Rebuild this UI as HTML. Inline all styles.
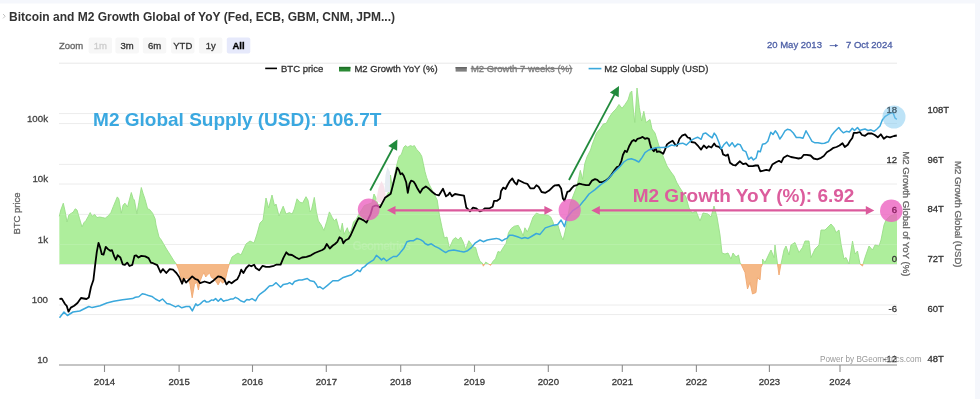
<!DOCTYPE html><html><head><meta charset="utf-8"><style>html,body{margin:0;padding:0;background:#fff;width:980px;height:399px;overflow:hidden}svg{display:block;filter:blur(0.35px)}text{font-family:"Liberation Sans", sans-serif}</style></head><body><svg width="980" height="399" viewBox="0 0 980 399"><defs><clipPath id="above"><rect x="0" y="0" width="980" height="264"/></clipPath><clipPath id="below"><rect x="0" y="264" width="980" height="140"/></clipPath><clipPath id="plot"><rect x="59" y="60" width="839" height="305"/></clipPath></defs><rect x="0" y="0" width="980" height="399" fill="#fff"/><rect x="0" y="0" width="980" height="3.5" fill="#f5f7fc"/><rect x="975" y="0" width="5" height="399" fill="#f5f7fc"/><path d="M3,14 L5.2,16.2 L3,18.4" fill="none" stroke="#bbb" stroke-width="0.9"/><text x="9" y="20.5" font-size="12" font-weight="bold" fill="#333">Bitcoin and M2 Growth Global of YoY (Fed, ECB, GBM, CNM, JPM...)</text><text x="59" y="48.8" font-size="9.5" fill="#666" stroke="#666" stroke-width="0.3">Zoom</text><rect x="88.6" y="37.5" width="23.5" height="16" rx="2" fill="#f7f7f7"/><text x="100.35" y="48.8" font-size="9.5" text-anchor="middle" fill="#ccc" stroke="#ccc" stroke-width="0.3">1m</text><rect x="115.4" y="37.5" width="23.5" height="16" rx="2" fill="#f7f7f7"/><text x="127.15" y="48.8" font-size="9.5" text-anchor="middle" fill="#333" stroke="#333" stroke-width="0.3">3m</text><rect x="142.8" y="37.5" width="23.5" height="16" rx="2" fill="#f7f7f7"/><text x="154.55" y="48.8" font-size="9.5" text-anchor="middle" fill="#333" stroke="#333" stroke-width="0.3">6m</text><rect x="171" y="37.5" width="23.5" height="16" rx="2" fill="#f7f7f7"/><text x="182.75" y="48.8" font-size="9.5" text-anchor="middle" fill="#333" stroke="#333" stroke-width="0.3">YTD</text><rect x="198.9" y="37.5" width="23.5" height="16" rx="2" fill="#f7f7f7"/><text x="210.65" y="48.8" font-size="9.5" text-anchor="middle" fill="#333" stroke="#333" stroke-width="0.3">1y</text><rect x="226.8" y="37.5" width="23.5" height="16" rx="2" fill="#e6e9fb"/><text x="238.55" y="48.8" font-size="9.5" text-anchor="middle" fill="#000" stroke="#000" stroke-width="0.3" font-weight="bold">All</text><text x="767" y="48.3" font-size="9.5" fill="#4d5fa6" stroke="#4d5fa6" stroke-width="0.3">20 May 2013</text><line x1="829.7" y1="45.6" x2="836" y2="45.6" stroke="#4d5fa6" stroke-width="0.9"/><path d="M838.3,45.6 L835,43.9 L835,47.3 Z" fill="#4d5fa6"/><text x="846" y="48.3" font-size="9.5" fill="#4d5fa6" stroke="#4d5fa6" stroke-width="0.3">7 Oct 2024</text><line x1="59" y1="63.2" x2="897" y2="63.2" stroke="#e8e8e8" stroke-width="1"/><line x1="59" y1="123.6" x2="897" y2="123.6" stroke="#ececec" stroke-width="1"/><line x1="59" y1="184" x2="897" y2="184" stroke="#ececec" stroke-width="1"/><line x1="59" y1="244.5" x2="897" y2="244.5" stroke="#ececec" stroke-width="1"/><line x1="59" y1="305" x2="897" y2="305" stroke="#ececec" stroke-width="1"/><line x1="59" y1="113.6" x2="897" y2="113.6" stroke="#ececec" stroke-width="1"/><line x1="59" y1="164.4" x2="897" y2="164.4" stroke="#ececec" stroke-width="1"/><line x1="59" y1="214.4" x2="897" y2="214.4" stroke="#ececec" stroke-width="1"/><line x1="59" y1="264.5" x2="897" y2="264.5" stroke="#ececec" stroke-width="1"/><line x1="59" y1="314.6" x2="897" y2="314.6" stroke="#ececec" stroke-width="1"/><line x1="265.2" y1="68.4" x2="277" y2="68.4" stroke="#000" stroke-width="1.6"/><text x="281" y="71.5" font-size="9.5" fill="#333" stroke="#333" stroke-width="0.3">BTC price</text><rect x="339" y="66.9" width="11.4" height="4.6" fill="#2a8a34"/><rect x="339" y="66.9" width="11.4" height="1.6" fill="#1d6e26"/><text x="354.4" y="71.5" font-size="9.5" fill="#333" stroke="#333" stroke-width="0.3">M2 Growth YoY (%)</text><rect x="455.6" y="67" width="11.2" height="4.6" fill="#808080"/><rect x="455.6" y="67" width="11.2" height="1.5" fill="#666"/><text x="470.9" y="71.5" font-size="9.5" fill="#7c7c7c" stroke="#7c7c7c" stroke-width="0.3" text-decoration="line-through">M2 Growth 7 weeks (%)</text><line x1="588.6" y1="68.6" x2="601.4" y2="68.6" stroke="#3aa8dc" stroke-width="1.6"/><text x="604.3" y="71.5" font-size="9.5" fill="#333" stroke="#333" stroke-width="0.3">M2 Global Supply (USD)</text><polygon points="59.4,264.0 59.3,216.3 60.8,210.0 63.3,203.2 65.1,211.3 67.0,222.0 68.9,215.0 71.4,213.2 73.3,212.0 75.2,208.8 77.0,210.0 79.6,218.8 82.0,227.0 84.0,222.6 85.8,220.7 88.3,216.3 90.2,212.6 92.1,216.3 94.6,214.4 97.0,217.6 99.6,217.0 102.7,217.6 105.2,218.2 108.4,215.7 110.9,212.6 113.4,206.3 117.3,196.9 118.8,198.8 121.3,213.2 123.1,205.0 125.0,203.2 127.5,207.0 131.3,192.5 133.2,198.8 134.4,200.0 136.9,213.8 138.8,202.6 141.3,187.5 143.2,193.8 145.1,199.4 147.6,208.8 149.5,209.4 152.6,213.2 155.1,218.8 156.0,225.0 159.0,237.0 161.3,240.0 163.5,243.8 166.5,249.0 170.3,255.0 174.0,261.0 176.3,264.0 178.7,269.7 180.9,277.5 183.2,282.0 185.4,278.7 187.7,278.1 190.0,284.3 192.2,297.8 194.5,284.3 196.7,282.0 198.4,290.0 200.1,281.0 202.4,275.3 204.0,272.5 205.7,277.0 208.0,274.2 209.7,273.0 211.4,277.5 213.6,278.7 216.4,282.0 218.1,284.9 220.4,280.4 222.6,283.2 225.0,281.0 227.6,269.7 229.3,264.0 232.0,257.0 235.0,255.0 238.0,253.0 241.0,255.0 246.0,244.0 250.0,241.0 254.0,243.0 257.0,234.0 260.0,223.0 263.0,220.0 266.0,198.0 268.6,208.0 272.0,195.0 274.6,206.0 276.0,204.0 279.0,216.0 283.2,206.2 286.0,214.0 289.4,212.6 292.2,214.0 294.3,209.0 297.0,198.8 299.8,202.2 302.6,203.0 306.0,196.7 308.0,200.2 310.1,211.9 311.5,209.8 314.3,197.4 316.3,211.2 318.4,220.9 321.2,225.0 323.9,230.5 326.7,221.6 329.4,211.9 332.2,217.4 334.3,220.9 336.3,218.8 339.1,229.1 340.5,231.9 342.3,223.2 344.0,234.4 347.3,227.7 349.0,233.3 351.3,230.0 353.5,222.0 356.3,219.2 359.0,214.0 364.3,205.6 368.7,204.0 372.0,203.0 374.0,194.0 376.0,198.0 378.0,205.0 382.0,204.0 385.0,199.0 388.5,192.0 390.5,175.0 392.0,186.0 394.0,178.0 396.0,168.0 398.2,159.5 399.2,156.2 401.3,154.6 403.8,147.2 405.4,145.6 407.8,147.2 410.3,145.6 412.7,146.4 414.4,145.6 416.8,149.7 419.3,152.1 421.7,156.2 423.3,163.5 425.0,171.7 426.6,177.4 429.0,184.0 432.3,190.5 435.6,197.0 437.2,200.0 439.4,215.0 442.0,227.5 444.4,238.0 447.0,237.0 449.4,248.0 453.2,239.4 455.7,237.6 458.2,240.0 460.7,237.0 463.2,242.0 465.7,249.5 468.9,240.7 470.7,243.2 473.2,247.0 475.7,247.6 477.6,255.0 480.0,261.4 482.4,263.0 483.3,266.2 485.7,262.1 488.2,263.7 490.6,265.3 493.0,261.3 495.5,258.8 498.0,251.5 500.4,252.3 502.8,248.2 506.1,243.3 508.5,232.7 511.0,228.7 514.3,226.2 518.3,225.4 520.8,230.3 523.2,236.0 524.9,227.8 527.3,231.9 529.8,226.2 533.0,217.2 536.3,213.2 540.0,214.6 544.6,214.6 548.4,215.4 550.6,216.9 553.0,222.0 554.3,226.7 557.7,224.5 561.1,235.8 563.0,240.0 565.0,232.0 567.0,222.0 570.0,204.0 573.5,195.0 577.0,186.0 580.3,170.3 582.6,179.3 584.8,163.5 587.0,156.8 590.5,150.0 592.0,145.0 596.5,133.0 600.3,128.5 603.3,124.0 606.3,123.3 609.3,117.3 612.3,112.8 616.0,109.0 619.0,104.5 622.0,108.3 625.0,104.5 628.0,100.0 630.3,92.5 631.8,91.0 633.3,109.0 634.8,122.5 637.0,88.0 639.3,107.5 641.6,121.0 643.8,111.3 646.0,122.5 650.0,119.5 652.0,129.0 655.0,133.0 659.0,146.0 663.0,156.0 667.0,166.0 671.0,172.0 674.0,176.0 677.0,183.0 680.0,188.0 686.0,197.0 689.0,208.0 692.0,213.0 696.0,211.0 700.0,221.0 703.0,213.0 708.0,214.0 711.0,217.0 714.0,206.0 717.0,217.0 720.0,235.0 722.0,253.0 725.0,254.0 728.0,253.0 731.0,259.0 733.0,253.0 736.0,257.0 738.5,255.0 740.0,262.5 741.0,264.0 745.0,272.5 747.5,289.0 750.0,282.5 752.5,294.0 756.0,292.5 757.5,277.5 760.0,280.0 761.0,267.5 762.5,264.0 762.5,259.0 765.0,262.5 769.0,254.0 771.0,250.0 774.0,257.5 775.0,245.0 777.5,264.0 779.0,275.0 781.0,264.0 784.0,250.0 786.0,246.0 789.0,255.0 791.0,245.0 795.0,242.5 799.0,252.5 802.5,247.5 805.0,241.0 809.0,241.0 811.0,257.5 815.0,249.0 819.0,245.0 821.0,230.0 825.0,230.0 829.0,226.0 831.0,224.0 834.0,227.5 836.0,232.5 839.0,230.0 841.0,244.0 844.0,259.0 846.0,257.5 849.0,264.0 852.5,241.0 855.0,254.0 857.5,251.0 860.0,264.0 862.5,266.0 865.0,257.5 869.0,246.0 872.5,250.0 875.0,245.0 879.0,246.0 881.0,240.0 884.0,225.0 886.0,220.0 890.0,216.0 896.0,214.0 897.0,214.0 897.0,264.0" fill="#aeee9c" clip-path="url(#above)"/><polygon points="59.4,264.0 59.3,216.3 60.8,210.0 63.3,203.2 65.1,211.3 67.0,222.0 68.9,215.0 71.4,213.2 73.3,212.0 75.2,208.8 77.0,210.0 79.6,218.8 82.0,227.0 84.0,222.6 85.8,220.7 88.3,216.3 90.2,212.6 92.1,216.3 94.6,214.4 97.0,217.6 99.6,217.0 102.7,217.6 105.2,218.2 108.4,215.7 110.9,212.6 113.4,206.3 117.3,196.9 118.8,198.8 121.3,213.2 123.1,205.0 125.0,203.2 127.5,207.0 131.3,192.5 133.2,198.8 134.4,200.0 136.9,213.8 138.8,202.6 141.3,187.5 143.2,193.8 145.1,199.4 147.6,208.8 149.5,209.4 152.6,213.2 155.1,218.8 156.0,225.0 159.0,237.0 161.3,240.0 163.5,243.8 166.5,249.0 170.3,255.0 174.0,261.0 176.3,264.0 178.7,269.7 180.9,277.5 183.2,282.0 185.4,278.7 187.7,278.1 190.0,284.3 192.2,297.8 194.5,284.3 196.7,282.0 198.4,290.0 200.1,281.0 202.4,275.3 204.0,272.5 205.7,277.0 208.0,274.2 209.7,273.0 211.4,277.5 213.6,278.7 216.4,282.0 218.1,284.9 220.4,280.4 222.6,283.2 225.0,281.0 227.6,269.7 229.3,264.0 232.0,257.0 235.0,255.0 238.0,253.0 241.0,255.0 246.0,244.0 250.0,241.0 254.0,243.0 257.0,234.0 260.0,223.0 263.0,220.0 266.0,198.0 268.6,208.0 272.0,195.0 274.6,206.0 276.0,204.0 279.0,216.0 283.2,206.2 286.0,214.0 289.4,212.6 292.2,214.0 294.3,209.0 297.0,198.8 299.8,202.2 302.6,203.0 306.0,196.7 308.0,200.2 310.1,211.9 311.5,209.8 314.3,197.4 316.3,211.2 318.4,220.9 321.2,225.0 323.9,230.5 326.7,221.6 329.4,211.9 332.2,217.4 334.3,220.9 336.3,218.8 339.1,229.1 340.5,231.9 342.3,223.2 344.0,234.4 347.3,227.7 349.0,233.3 351.3,230.0 353.5,222.0 356.3,219.2 359.0,214.0 364.3,205.6 368.7,204.0 372.0,203.0 374.0,194.0 376.0,198.0 378.0,205.0 382.0,204.0 385.0,199.0 388.5,192.0 390.5,175.0 392.0,186.0 394.0,178.0 396.0,168.0 398.2,159.5 399.2,156.2 401.3,154.6 403.8,147.2 405.4,145.6 407.8,147.2 410.3,145.6 412.7,146.4 414.4,145.6 416.8,149.7 419.3,152.1 421.7,156.2 423.3,163.5 425.0,171.7 426.6,177.4 429.0,184.0 432.3,190.5 435.6,197.0 437.2,200.0 439.4,215.0 442.0,227.5 444.4,238.0 447.0,237.0 449.4,248.0 453.2,239.4 455.7,237.6 458.2,240.0 460.7,237.0 463.2,242.0 465.7,249.5 468.9,240.7 470.7,243.2 473.2,247.0 475.7,247.6 477.6,255.0 480.0,261.4 482.4,263.0 483.3,266.2 485.7,262.1 488.2,263.7 490.6,265.3 493.0,261.3 495.5,258.8 498.0,251.5 500.4,252.3 502.8,248.2 506.1,243.3 508.5,232.7 511.0,228.7 514.3,226.2 518.3,225.4 520.8,230.3 523.2,236.0 524.9,227.8 527.3,231.9 529.8,226.2 533.0,217.2 536.3,213.2 540.0,214.6 544.6,214.6 548.4,215.4 550.6,216.9 553.0,222.0 554.3,226.7 557.7,224.5 561.1,235.8 563.0,240.0 565.0,232.0 567.0,222.0 570.0,204.0 573.5,195.0 577.0,186.0 580.3,170.3 582.6,179.3 584.8,163.5 587.0,156.8 590.5,150.0 592.0,145.0 596.5,133.0 600.3,128.5 603.3,124.0 606.3,123.3 609.3,117.3 612.3,112.8 616.0,109.0 619.0,104.5 622.0,108.3 625.0,104.5 628.0,100.0 630.3,92.5 631.8,91.0 633.3,109.0 634.8,122.5 637.0,88.0 639.3,107.5 641.6,121.0 643.8,111.3 646.0,122.5 650.0,119.5 652.0,129.0 655.0,133.0 659.0,146.0 663.0,156.0 667.0,166.0 671.0,172.0 674.0,176.0 677.0,183.0 680.0,188.0 686.0,197.0 689.0,208.0 692.0,213.0 696.0,211.0 700.0,221.0 703.0,213.0 708.0,214.0 711.0,217.0 714.0,206.0 717.0,217.0 720.0,235.0 722.0,253.0 725.0,254.0 728.0,253.0 731.0,259.0 733.0,253.0 736.0,257.0 738.5,255.0 740.0,262.5 741.0,264.0 745.0,272.5 747.5,289.0 750.0,282.5 752.5,294.0 756.0,292.5 757.5,277.5 760.0,280.0 761.0,267.5 762.5,264.0 762.5,259.0 765.0,262.5 769.0,254.0 771.0,250.0 774.0,257.5 775.0,245.0 777.5,264.0 779.0,275.0 781.0,264.0 784.0,250.0 786.0,246.0 789.0,255.0 791.0,245.0 795.0,242.5 799.0,252.5 802.5,247.5 805.0,241.0 809.0,241.0 811.0,257.5 815.0,249.0 819.0,245.0 821.0,230.0 825.0,230.0 829.0,226.0 831.0,224.0 834.0,227.5 836.0,232.5 839.0,230.0 841.0,244.0 844.0,259.0 846.0,257.5 849.0,264.0 852.5,241.0 855.0,254.0 857.5,251.0 860.0,264.0 862.5,266.0 865.0,257.5 869.0,246.0 872.5,250.0 875.0,245.0 879.0,246.0 881.0,240.0 884.0,225.0 886.0,220.0 890.0,216.0 896.0,214.0 897.0,214.0 897.0,264.0" fill="#f5b886" clip-path="url(#below)"/><path d="M59.3,216.3 L60.8,210.0 L63.3,203.2 L65.1,211.3 L67.0,222.0 L68.9,215.0 L71.4,213.2 L73.3,212.0 L75.2,208.8 L77.0,210.0 L79.6,218.8 L82.0,227.0 L84.0,222.6 L85.8,220.7 L88.3,216.3 L90.2,212.6 L92.1,216.3 L94.6,214.4 L97.0,217.6 L99.6,217.0 L102.7,217.6 L105.2,218.2 L108.4,215.7 L110.9,212.6 L113.4,206.3 L117.3,196.9 L118.8,198.8 L121.3,213.2 L123.1,205.0 L125.0,203.2 L127.5,207.0 L131.3,192.5 L133.2,198.8 L134.4,200.0 L136.9,213.8 L138.8,202.6 L141.3,187.5 L143.2,193.8 L145.1,199.4 L147.6,208.8 L149.5,209.4 L152.6,213.2 L155.1,218.8 L156.0,225.0 L159.0,237.0 L161.3,240.0 L163.5,243.8 L166.5,249.0 L170.3,255.0 L174.0,261.0 L176.3,264.0 L178.7,269.7 L180.9,277.5 L183.2,282.0 L185.4,278.7 L187.7,278.1 L190.0,284.3 L192.2,297.8 L194.5,284.3 L196.7,282.0 L198.4,290.0 L200.1,281.0 L202.4,275.3 L204.0,272.5 L205.7,277.0 L208.0,274.2 L209.7,273.0 L211.4,277.5 L213.6,278.7 L216.4,282.0 L218.1,284.9 L220.4,280.4 L222.6,283.2 L225.0,281.0 L227.6,269.7 L229.3,264.0 L232.0,257.0 L235.0,255.0 L238.0,253.0 L241.0,255.0 L246.0,244.0 L250.0,241.0 L254.0,243.0 L257.0,234.0 L260.0,223.0 L263.0,220.0 L266.0,198.0 L268.6,208.0 L272.0,195.0 L274.6,206.0 L276.0,204.0 L279.0,216.0 L283.2,206.2 L286.0,214.0 L289.4,212.6 L292.2,214.0 L294.3,209.0 L297.0,198.8 L299.8,202.2 L302.6,203.0 L306.0,196.7 L308.0,200.2 L310.1,211.9 L311.5,209.8 L314.3,197.4 L316.3,211.2 L318.4,220.9 L321.2,225.0 L323.9,230.5 L326.7,221.6 L329.4,211.9 L332.2,217.4 L334.3,220.9 L336.3,218.8 L339.1,229.1 L340.5,231.9 L342.3,223.2 L344.0,234.4 L347.3,227.7 L349.0,233.3 L351.3,230.0 L353.5,222.0 L356.3,219.2 L359.0,214.0 L364.3,205.6 L368.7,204.0 L372.0,203.0 L374.0,194.0 L376.0,198.0 L378.0,205.0 L382.0,204.0 L385.0,199.0 L388.5,192.0 L390.5,175.0 L392.0,186.0 L394.0,178.0 L396.0,168.0 L398.2,159.5 L399.2,156.2 L401.3,154.6 L403.8,147.2 L405.4,145.6 L407.8,147.2 L410.3,145.6 L412.7,146.4 L414.4,145.6 L416.8,149.7 L419.3,152.1 L421.7,156.2 L423.3,163.5 L425.0,171.7 L426.6,177.4 L429.0,184.0 L432.3,190.5 L435.6,197.0 L437.2,200.0 L439.4,215.0 L442.0,227.5 L444.4,238.0 L447.0,237.0 L449.4,248.0 L453.2,239.4 L455.7,237.6 L458.2,240.0 L460.7,237.0 L463.2,242.0 L465.7,249.5 L468.9,240.7 L470.7,243.2 L473.2,247.0 L475.7,247.6 L477.6,255.0 L480.0,261.4 L482.4,263.0 L483.3,266.2 L485.7,262.1 L488.2,263.7 L490.6,265.3 L493.0,261.3 L495.5,258.8 L498.0,251.5 L500.4,252.3 L502.8,248.2 L506.1,243.3 L508.5,232.7 L511.0,228.7 L514.3,226.2 L518.3,225.4 L520.8,230.3 L523.2,236.0 L524.9,227.8 L527.3,231.9 L529.8,226.2 L533.0,217.2 L536.3,213.2 L540.0,214.6 L544.6,214.6 L548.4,215.4 L550.6,216.9 L553.0,222.0 L554.3,226.7 L557.7,224.5 L561.1,235.8 L563.0,240.0 L565.0,232.0 L567.0,222.0 L570.0,204.0 L573.5,195.0 L577.0,186.0 L580.3,170.3 L582.6,179.3 L584.8,163.5 L587.0,156.8 L590.5,150.0 L592.0,145.0 L596.5,133.0 L600.3,128.5 L603.3,124.0 L606.3,123.3 L609.3,117.3 L612.3,112.8 L616.0,109.0 L619.0,104.5 L622.0,108.3 L625.0,104.5 L628.0,100.0 L630.3,92.5 L631.8,91.0 L633.3,109.0 L634.8,122.5 L637.0,88.0 L639.3,107.5 L641.6,121.0 L643.8,111.3 L646.0,122.5 L650.0,119.5 L652.0,129.0 L655.0,133.0 L659.0,146.0 L663.0,156.0 L667.0,166.0 L671.0,172.0 L674.0,176.0 L677.0,183.0 L680.0,188.0 L686.0,197.0 L689.0,208.0 L692.0,213.0 L696.0,211.0 L700.0,221.0 L703.0,213.0 L708.0,214.0 L711.0,217.0 L714.0,206.0 L717.0,217.0 L720.0,235.0 L722.0,253.0 L725.0,254.0 L728.0,253.0 L731.0,259.0 L733.0,253.0 L736.0,257.0 L738.5,255.0 L740.0,262.5 L741.0,264.0 L745.0,272.5 L747.5,289.0 L750.0,282.5 L752.5,294.0 L756.0,292.5 L757.5,277.5 L760.0,280.0 L761.0,267.5 L762.5,264.0 L762.5,259.0 L765.0,262.5 L769.0,254.0 L771.0,250.0 L774.0,257.5 L775.0,245.0 L777.5,264.0 L779.0,275.0 L781.0,264.0 L784.0,250.0 L786.0,246.0 L789.0,255.0 L791.0,245.0 L795.0,242.5 L799.0,252.5 L802.5,247.5 L805.0,241.0 L809.0,241.0 L811.0,257.5 L815.0,249.0 L819.0,245.0 L821.0,230.0 L825.0,230.0 L829.0,226.0 L831.0,224.0 L834.0,227.5 L836.0,232.5 L839.0,230.0 L841.0,244.0 L844.0,259.0 L846.0,257.5 L849.0,264.0 L852.5,241.0 L855.0,254.0 L857.5,251.0 L860.0,264.0 L862.5,266.0 L865.0,257.5 L869.0,246.0 L872.5,250.0 L875.0,245.0 L879.0,246.0 L881.0,240.0 L884.0,225.0 L886.0,220.0 L890.0,216.0 L896.0,214.0 L897.0,214.0" fill="none" stroke="#9ade88" stroke-width="0.9" clip-path="url(#above)"/><path d="M59.3,216.3 L60.8,210.0 L63.3,203.2 L65.1,211.3 L67.0,222.0 L68.9,215.0 L71.4,213.2 L73.3,212.0 L75.2,208.8 L77.0,210.0 L79.6,218.8 L82.0,227.0 L84.0,222.6 L85.8,220.7 L88.3,216.3 L90.2,212.6 L92.1,216.3 L94.6,214.4 L97.0,217.6 L99.6,217.0 L102.7,217.6 L105.2,218.2 L108.4,215.7 L110.9,212.6 L113.4,206.3 L117.3,196.9 L118.8,198.8 L121.3,213.2 L123.1,205.0 L125.0,203.2 L127.5,207.0 L131.3,192.5 L133.2,198.8 L134.4,200.0 L136.9,213.8 L138.8,202.6 L141.3,187.5 L143.2,193.8 L145.1,199.4 L147.6,208.8 L149.5,209.4 L152.6,213.2 L155.1,218.8 L156.0,225.0 L159.0,237.0 L161.3,240.0 L163.5,243.8 L166.5,249.0 L170.3,255.0 L174.0,261.0 L176.3,264.0 L178.7,269.7 L180.9,277.5 L183.2,282.0 L185.4,278.7 L187.7,278.1 L190.0,284.3 L192.2,297.8 L194.5,284.3 L196.7,282.0 L198.4,290.0 L200.1,281.0 L202.4,275.3 L204.0,272.5 L205.7,277.0 L208.0,274.2 L209.7,273.0 L211.4,277.5 L213.6,278.7 L216.4,282.0 L218.1,284.9 L220.4,280.4 L222.6,283.2 L225.0,281.0 L227.6,269.7 L229.3,264.0 L232.0,257.0 L235.0,255.0 L238.0,253.0 L241.0,255.0 L246.0,244.0 L250.0,241.0 L254.0,243.0 L257.0,234.0 L260.0,223.0 L263.0,220.0 L266.0,198.0 L268.6,208.0 L272.0,195.0 L274.6,206.0 L276.0,204.0 L279.0,216.0 L283.2,206.2 L286.0,214.0 L289.4,212.6 L292.2,214.0 L294.3,209.0 L297.0,198.8 L299.8,202.2 L302.6,203.0 L306.0,196.7 L308.0,200.2 L310.1,211.9 L311.5,209.8 L314.3,197.4 L316.3,211.2 L318.4,220.9 L321.2,225.0 L323.9,230.5 L326.7,221.6 L329.4,211.9 L332.2,217.4 L334.3,220.9 L336.3,218.8 L339.1,229.1 L340.5,231.9 L342.3,223.2 L344.0,234.4 L347.3,227.7 L349.0,233.3 L351.3,230.0 L353.5,222.0 L356.3,219.2 L359.0,214.0 L364.3,205.6 L368.7,204.0 L372.0,203.0 L374.0,194.0 L376.0,198.0 L378.0,205.0 L382.0,204.0 L385.0,199.0 L388.5,192.0 L390.5,175.0 L392.0,186.0 L394.0,178.0 L396.0,168.0 L398.2,159.5 L399.2,156.2 L401.3,154.6 L403.8,147.2 L405.4,145.6 L407.8,147.2 L410.3,145.6 L412.7,146.4 L414.4,145.6 L416.8,149.7 L419.3,152.1 L421.7,156.2 L423.3,163.5 L425.0,171.7 L426.6,177.4 L429.0,184.0 L432.3,190.5 L435.6,197.0 L437.2,200.0 L439.4,215.0 L442.0,227.5 L444.4,238.0 L447.0,237.0 L449.4,248.0 L453.2,239.4 L455.7,237.6 L458.2,240.0 L460.7,237.0 L463.2,242.0 L465.7,249.5 L468.9,240.7 L470.7,243.2 L473.2,247.0 L475.7,247.6 L477.6,255.0 L480.0,261.4 L482.4,263.0 L483.3,266.2 L485.7,262.1 L488.2,263.7 L490.6,265.3 L493.0,261.3 L495.5,258.8 L498.0,251.5 L500.4,252.3 L502.8,248.2 L506.1,243.3 L508.5,232.7 L511.0,228.7 L514.3,226.2 L518.3,225.4 L520.8,230.3 L523.2,236.0 L524.9,227.8 L527.3,231.9 L529.8,226.2 L533.0,217.2 L536.3,213.2 L540.0,214.6 L544.6,214.6 L548.4,215.4 L550.6,216.9 L553.0,222.0 L554.3,226.7 L557.7,224.5 L561.1,235.8 L563.0,240.0 L565.0,232.0 L567.0,222.0 L570.0,204.0 L573.5,195.0 L577.0,186.0 L580.3,170.3 L582.6,179.3 L584.8,163.5 L587.0,156.8 L590.5,150.0 L592.0,145.0 L596.5,133.0 L600.3,128.5 L603.3,124.0 L606.3,123.3 L609.3,117.3 L612.3,112.8 L616.0,109.0 L619.0,104.5 L622.0,108.3 L625.0,104.5 L628.0,100.0 L630.3,92.5 L631.8,91.0 L633.3,109.0 L634.8,122.5 L637.0,88.0 L639.3,107.5 L641.6,121.0 L643.8,111.3 L646.0,122.5 L650.0,119.5 L652.0,129.0 L655.0,133.0 L659.0,146.0 L663.0,156.0 L667.0,166.0 L671.0,172.0 L674.0,176.0 L677.0,183.0 L680.0,188.0 L686.0,197.0 L689.0,208.0 L692.0,213.0 L696.0,211.0 L700.0,221.0 L703.0,213.0 L708.0,214.0 L711.0,217.0 L714.0,206.0 L717.0,217.0 L720.0,235.0 L722.0,253.0 L725.0,254.0 L728.0,253.0 L731.0,259.0 L733.0,253.0 L736.0,257.0 L738.5,255.0 L740.0,262.5 L741.0,264.0 L745.0,272.5 L747.5,289.0 L750.0,282.5 L752.5,294.0 L756.0,292.5 L757.5,277.5 L760.0,280.0 L761.0,267.5 L762.5,264.0 L762.5,259.0 L765.0,262.5 L769.0,254.0 L771.0,250.0 L774.0,257.5 L775.0,245.0 L777.5,264.0 L779.0,275.0 L781.0,264.0 L784.0,250.0 L786.0,246.0 L789.0,255.0 L791.0,245.0 L795.0,242.5 L799.0,252.5 L802.5,247.5 L805.0,241.0 L809.0,241.0 L811.0,257.5 L815.0,249.0 L819.0,245.0 L821.0,230.0 L825.0,230.0 L829.0,226.0 L831.0,224.0 L834.0,227.5 L836.0,232.5 L839.0,230.0 L841.0,244.0 L844.0,259.0 L846.0,257.5 L849.0,264.0 L852.5,241.0 L855.0,254.0 L857.5,251.0 L860.0,264.0 L862.5,266.0 L865.0,257.5 L869.0,246.0 L872.5,250.0 L875.0,245.0 L879.0,246.0 L881.0,240.0 L884.0,225.0 L886.0,220.0 L890.0,216.0 L896.0,214.0 L897.0,214.0" fill="none" stroke="#f0a870" stroke-width="0.9" clip-path="url(#below)"/><line x1="59" y1="214.4" x2="897" y2="214.4" stroke="#fff" stroke-opacity="0.12" stroke-width="1"/><line x1="59" y1="244.5" x2="897" y2="244.5" stroke="#fff" stroke-opacity="0.12" stroke-width="1"/><path d="M384.5,192 L385.5,175 L387.5,167 L390,172 L390,192 Z" fill="#e6ecf2"/><path d="M376,201 L378.5,188 L381.5,181 L384,186 L386,197 L383,204 Z" fill="#f8e3eb"/><text x="352.5" y="249.5" font-size="12" font-weight="bold" fill="#ffffff" fill-opacity="0.14" textLength="58.5">Geometrics</text><path d="M59.5,299.0 L61.8,298.6 L65.0,304.0 L66.7,305.8 L68.5,311.7 L70.8,307.6 L74.2,305.8 L77.5,303.0 L81.0,298.0 L86.5,299.0 L88.8,297.5 L91.0,287.0 L93.4,280.0 L95.1,265.4 L96.8,251.9 L98.5,242.9 L100.1,247.4 L101.8,254.2 L103.5,254.7 L105.8,246.8 L108.0,249.1 L110.3,250.8 L112.0,250.2 L114.2,256.4 L115.9,259.8 L117.6,255.3 L120.4,257.5 L122.7,264.3 L124.9,264.9 L127.2,262.6 L129.5,266.0 L132.3,264.9 L134.5,255.9 L136.2,255.3 L138.5,257.5 L141.3,255.9 L145.2,256.4 L148.6,258.1 L150.9,262.6 L153.1,263.2 L157.3,265.1 L160.6,272.5 L162.9,269.1 L166.3,273.0 L169.7,269.1 L173.0,269.7 L176.4,273.0 L179.2,277.0 L182.1,283.7 L183.7,278.7 L186.0,282.6 L188.8,279.8 L192.2,276.4 L195.6,279.2 L197.8,279.8 L200.1,283.2 L204.6,281.5 L209.7,283.2 L213.6,280.4 L218.1,276.4 L221.0,277.0 L224.3,279.3 L226.5,284.4 L228.8,281.6 L231.6,283.3 L234.4,281.0 L237.2,279.3 L239.5,274.8 L241.2,269.7 L243.4,273.1 L246.2,268.0 L249.1,265.2 L251.3,266.3 L254.1,264.7 L255.8,268.0 L259.2,270.3 L262.6,265.8 L266.0,266.9 L269.4,266.9 L273.9,265.8 L276.1,264.7 L280.6,264.7 L283.4,257.9 L286.3,252.3 L288.5,254.5 L292.0,255.0 L296.0,257.5 L299.0,259.0 L302.0,257.5 L306.5,256.8 L311.0,255.3 L314.8,253.0 L318.5,251.5 L322.3,250.0 L324.5,248.5 L326.8,244.0 L329.8,248.5 L332.8,245.5 L335.0,244.0 L337.3,241.8 L339.5,237.3 L341.8,238.8 L343.3,243.3 L345.6,240.3 L348.6,238.8 L350.8,235.0 L353.5,228.8 L356.3,222.6 L358.6,218.1 L361.4,219.2 L363.7,220.4 L366.5,222.6 L368.2,219.2 L370.4,214.7 L372.7,206.8 L374.9,205.7 L377.2,205.7 L380.0,207.4 L385.0,197.8 L388.3,195.4 L390.7,193.7 L393.2,184.0 L395.6,174.2 L397.2,167.6 L398.9,170.0 L400.5,174.2 L402.1,173.3 L403.8,175.8 L406.2,182.3 L407.8,192.9 L409.5,184.0 L411.1,180.7 L413.5,181.5 L415.2,184.0 L417.6,188.8 L420.1,192.9 L422.5,188.8 L425.8,186.4 L429.0,188.8 L432.3,192.0 L435.6,194.5 L438.8,195.4 L443.0,188.8 L446.0,196.3 L448.3,194.8 L449.8,192.6 L452.0,196.3 L455.0,194.0 L459.5,194.8 L464.0,195.6 L466.3,207.6 L467.8,209.0 L470.0,211.4 L473.0,207.6 L476.0,208.3 L479.8,211.4 L482.0,210.6 L485.0,208.3 L489.6,208.3 L492.6,206.8 L494.1,200.8 L497.1,200.8 L500.0,198.6 L501.0,191.3 L503.3,187.6 L505.5,189.0 L507.8,184.5 L510.0,180.8 L512.3,178.5 L514.5,182.3 L516.8,184.5 L518.3,180.0 L521.3,181.5 L524.3,183.0 L527.3,183.8 L530.3,188.3 L534.1,188.3 L536.4,185.3 L538.6,186.8 L541.6,192.0 L545.4,192.8 L549.1,190.6 L552.9,186.8 L555.0,185.3 L558.9,185.0 L561.1,188.4 L562.9,198.5 L564.5,200.8 L567.3,191.9 L569.5,191.1 L571.8,188.1 L574.0,185.9 L577.0,185.1 L579.3,183.6 L582.3,184.4 L586.0,185.1 L589.1,185.1 L592.0,180.6 L595.0,179.1 L597.3,179.8 L599.6,182.1 L602.6,182.1 L605.6,180.6 L608.6,178.3 L611.6,174.6 L614.6,170.0 L616.9,167.1 L619.1,166.3 L621.4,161.0 L622.9,155.0 L625.0,150.7 L626.9,152.0 L629.4,145.7 L631.9,141.3 L633.8,140.0 L635.7,141.3 L637.5,138.8 L640.0,138.2 L642.6,136.9 L645.0,138.8 L647.0,138.2 L648.8,138.8 L650.0,143.8 L651.3,148.2 L653.8,151.3 L655.7,148.2 L657.0,152.0 L658.8,151.3 L661.4,152.6 L663.2,153.8 L665.1,149.4 L667.0,144.4 L669.5,142.5 L672.6,140.7 L675.1,144.4 L677.0,145.7 L679.5,138.8 L682.0,135.7 L685.2,134.4 L687.7,137.5 L690.0,138.2 L691.4,142.0 L694.9,142.7 L698.3,146.2 L701.1,149.6 L703.8,145.5 L706.6,148.2 L708.7,146.2 L711.4,147.5 L714.2,143.4 L716.2,146.2 L719.0,146.9 L721.7,149.6 L723.1,154.4 L725.9,155.8 L727.9,154.4 L730.0,162.7 L732.8,164.8 L735.5,165.5 L739.7,161.3 L743.1,164.1 L745.9,163.4 L748.6,166.1 L752.7,166.1 L755.5,165.5 L758.0,165.3 L760.3,171.3 L763.3,170.6 L766.3,169.8 L769.3,170.6 L772.3,164.6 L776.0,162.3 L779.0,160.8 L781.3,162.3 L783.5,157.8 L787.3,155.5 L791.0,157.0 L795.5,157.8 L798.5,158.5 L801.5,157.8 L803.8,154.8 L806.8,154.8 L810.6,155.5 L813.6,158.5 L817.3,159.3 L821.1,157.8 L823.8,156.0 L826.8,152.3 L830.5,150.0 L833.5,147.8 L836.5,147.0 L839.5,145.5 L842.5,143.3 L844.8,147.0 L847.8,144.8 L850.0,141.0 L852.3,138.0 L853.8,132.8 L856.8,132.8 L859.8,132.0 L862.0,135.0 L865.0,135.8 L868.0,133.5 L871.8,133.5 L874.8,135.0 L877.8,137.3 L880.8,134.3 L883.8,138.8 L886.8,136.5 L890.0,137.3 L894.0,136.0 L896.8,135.5" fill="none" stroke="#000" stroke-width="1.8" stroke-linejoin="round"/><path d="M59.5,317.7 L64.0,312.0 L67.4,315.5 L73.0,312.0 L79.8,311.0 L88.8,306.5 L92.2,307.6 L100.0,305.8 L106.8,303.0 L113.6,301.3 L122.6,299.7 L132.6,298.6 L135.3,297.3 L138.8,296.8 L142.3,293.8 L145.8,294.6 L148.4,295.5 L151.9,296.4 L155.4,299.0 L159.4,301.2 L162.5,299.0 L166.8,303.4 L170.4,304.3 L175.6,306.9 L178.2,305.6 L181.8,307.8 L186.1,306.5 L189.6,306.5 L192.3,310.9 L195.8,303.9 L197.5,305.6 L200.3,303.9 L202.5,301.7 L204.6,300.4 L206.4,302.1 L209.0,301.7 L211.7,299.9 L213.4,300.4 L215.6,298.6 L218.2,301.2 L220.9,298.6 L223.5,301.2 L225.7,300.4 L228.3,299.9 L231.0,299.0 L233.2,299.0 L235.4,297.3 L238.0,298.6 L240.6,300.8 L244.1,302.1 L246.8,299.5 L249.4,299.9 L252.0,298.6 L255.5,300.8 L258.2,296.0 L260.4,293.8 L264.8,290.6 L269.4,286.0 L272.7,285.5 L276.1,282.7 L280.6,287.2 L283.4,284.4 L287.4,283.8 L289.6,282.7 L292.3,284.5 L294.5,281.5 L299.0,280.0 L302.0,280.0 L307.3,278.5 L310.3,280.8 L314.0,281.5 L316.3,284.5 L317.8,287.5 L320.0,286.8 L323.0,289.0 L327.5,285.3 L332.8,280.8 L338.0,280.8 L342.6,277.8 L347.0,276.3 L351.6,274.8 L357.3,270.0 L360.1,271.7 L362.3,267.8 L364.6,266.6 L367.4,263.8 L370.8,261.6 L373.6,259.9 L376.4,255.4 L379.2,257.6 L381.5,259.9 L383.7,258.2 L386.6,261.0 L390.0,258.7 L393.3,256.5 L396.7,256.5 L399.0,254.2 L401.2,251.4 L404.0,248.0 L406.9,241.8 L410.2,240.7 L413.6,240.7 L417.0,238.5 L420.4,239.6 L423.2,241.3 L425.0,243.5 L428.0,245.0 L431.3,243.8 L435.0,246.3 L438.8,248.2 L442.5,250.7 L445.7,252.6 L448.8,250.7 L453.8,250.0 L460.0,251.3 L463.8,252.0 L467.6,250.7 L471.4,247.6 L475.0,243.2 L480.0,240.0 L483.3,241.7 L487.3,240.0 L491.4,239.3 L496.3,238.4 L499.6,239.3 L502.0,240.9 L504.5,239.3 L506.9,238.4 L509.4,235.2 L512.6,235.2 L517.5,236.8 L521.6,238.4 L524.9,237.6 L528.1,238.4 L532.2,236.0 L536.3,233.5 L540.0,234.4 L545.3,227.9 L552.1,225.6 L557.7,224.5 L561.1,220.0 L564.5,226.7 L566.8,217.7 L572.4,210.9 L579.2,206.4 L583.7,200.8 L584.5,200.0 L589.0,194.0 L595.0,189.6 L601.0,184.4 L605.6,181.4 L610.1,176.8 L614.6,171.6 L620.0,166.4 L623.8,162.0 L627.5,159.5 L631.3,158.8 L635.0,160.0 L638.8,162.0 L642.0,157.6 L645.0,152.6 L648.8,150.0 L653.8,148.2 L657.6,147.6 L662.6,147.6 L667.6,147.0 L671.4,145.0 L675.1,145.7 L679.0,143.8 L682.7,143.2 L686.4,145.0 L690.8,140.7 L694.2,138.6 L697.6,137.2 L701.1,139.3 L703.2,133.8 L705.9,133.1 L709.3,135.8 L712.1,137.9 L714.2,133.1 L716.2,135.8 L719.0,142.7 L721.1,148.9 L723.8,144.8 L726.6,142.0 L729.3,146.2 L732.1,142.7 L734.8,146.9 L737.6,144.1 L740.3,144.8 L743.1,150.3 L745.9,151.7 L748.6,159.3 L751.4,157.2 L753.4,160.0 L756.2,157.9 L758.0,151.0 L760.3,151.8 L762.5,144.3 L765.5,143.5 L767.8,141.3 L770.8,132.3 L773.0,134.5 L775.3,130.8 L777.5,133.8 L779.8,139.0 L782.0,136.0 L785.0,130.8 L787.3,129.3 L790.3,130.0 L793.3,133.0 L796.3,137.5 L800.0,137.5 L803.0,138.3 L806.0,130.8 L809.0,136.0 L812.0,141.3 L815.0,142.8 L818.0,142.8 L821.8,143.5 L824.5,143.3 L828.3,141.8 L831.3,135.8 L834.3,132.0 L836.5,129.8 L838.8,127.5 L841.0,130.5 L843.3,132.8 L846.3,131.3 L849.3,132.0 L852.3,128.3 L854.5,130.5 L857.5,127.5 L859.8,130.5 L862.0,129.8 L865.0,129.0 L868.0,130.5 L871.0,129.8 L874.0,131.3 L877.0,129.0 L880.0,126.0 L882.3,120.0 L885.3,116.3 L890.0,113.3 L893.0,112.5 L895.0,118.0 L896.8,119.3" fill="none" stroke="#3aa8dc" stroke-width="1.5" stroke-linejoin="round"/><line x1="59" y1="365" x2="897" y2="365" stroke="#8c8c8c" stroke-width="1.2"/><line x1="104.5" y1="365" x2="104.5" y2="372" stroke="#8c8c8c" stroke-width="1.1"/><text x="104.5" y="385" font-size="9.6" text-anchor="middle" fill="#3a3a3a" stroke="#3a3a3a" stroke-width="0.3">2014</text><line x1="179.1" y1="365" x2="179.1" y2="372" stroke="#8c8c8c" stroke-width="1.1"/><text x="179.1" y="385" font-size="9.6" text-anchor="middle" fill="#3a3a3a" stroke="#3a3a3a" stroke-width="0.3">2015</text><line x1="252.5" y1="365" x2="252.5" y2="372" stroke="#8c8c8c" stroke-width="1.1"/><text x="252.5" y="385" font-size="9.6" text-anchor="middle" fill="#3a3a3a" stroke="#3a3a3a" stroke-width="0.3">2016</text><line x1="326.3" y1="365" x2="326.3" y2="372" stroke="#8c8c8c" stroke-width="1.1"/><text x="326.3" y="385" font-size="9.6" text-anchor="middle" fill="#3a3a3a" stroke="#3a3a3a" stroke-width="0.3">2017</text><line x1="400.7" y1="365" x2="400.7" y2="372" stroke="#8c8c8c" stroke-width="1.1"/><text x="400.7" y="385" font-size="9.6" text-anchor="middle" fill="#3a3a3a" stroke="#3a3a3a" stroke-width="0.3">2018</text><line x1="474.5" y1="365" x2="474.5" y2="372" stroke="#8c8c8c" stroke-width="1.1"/><text x="474.5" y="385" font-size="9.6" text-anchor="middle" fill="#3a3a3a" stroke="#3a3a3a" stroke-width="0.3">2019</text><line x1="548.3" y1="365" x2="548.3" y2="372" stroke="#8c8c8c" stroke-width="1.1"/><text x="548.3" y="385" font-size="9.6" text-anchor="middle" fill="#3a3a3a" stroke="#3a3a3a" stroke-width="0.3">2020</text><line x1="622.3" y1="365" x2="622.3" y2="372" stroke="#8c8c8c" stroke-width="1.1"/><text x="622.3" y="385" font-size="9.6" text-anchor="middle" fill="#3a3a3a" stroke="#3a3a3a" stroke-width="0.3">2021</text><line x1="696.4" y1="365" x2="696.4" y2="372" stroke="#8c8c8c" stroke-width="1.1"/><text x="696.4" y="385" font-size="9.6" text-anchor="middle" fill="#3a3a3a" stroke="#3a3a3a" stroke-width="0.3">2022</text><line x1="769.4" y1="365" x2="769.4" y2="372" stroke="#8c8c8c" stroke-width="1.1"/><text x="769.4" y="385" font-size="9.6" text-anchor="middle" fill="#3a3a3a" stroke="#3a3a3a" stroke-width="0.3">2023</text><line x1="840" y1="365" x2="840" y2="372" stroke="#8c8c8c" stroke-width="1.1"/><text x="840" y="385" font-size="9.6" text-anchor="middle" fill="#3a3a3a" stroke="#3a3a3a" stroke-width="0.3">2024</text><text x="48" y="121.9" font-size="9.7" text-anchor="end" fill="#444" stroke="#444" stroke-width="0.3">100k</text><text x="48" y="181.9" font-size="9.7" text-anchor="end" fill="#444" stroke="#444" stroke-width="0.3">10k</text><text x="48" y="242.9" font-size="9.7" text-anchor="end" fill="#444" stroke="#444" stroke-width="0.3">1k</text><text x="48" y="303.4" font-size="9.7" text-anchor="end" fill="#444" stroke="#444" stroke-width="0.3">100</text><text x="48" y="363.4" font-size="9.7" text-anchor="end" fill="#444" stroke="#444" stroke-width="0.3">10</text><text transform="translate(19.5,213.5) rotate(-90)" font-size="9.5" text-anchor="middle" fill="#666" stroke="#666" stroke-width="0.3">BTC price</text><text x="897" y="112.9" font-size="9.5" text-anchor="end" fill="#333" stroke="#333" stroke-width="0.3">18</text><text x="897" y="162.9" font-size="9.5" text-anchor="end" fill="#333" stroke="#333" stroke-width="0.3">12</text><text x="897" y="212.7" font-size="9.5" text-anchor="end" fill="#333" stroke="#333" stroke-width="0.3">6</text><text x="897" y="262.2" font-size="9.5" text-anchor="end" fill="#333" stroke="#333" stroke-width="0.3">0</text><text x="897" y="312.2" font-size="9.5" text-anchor="end" fill="#333" stroke="#333" stroke-width="0.3">-6</text><text x="897" y="362" font-size="9.5" text-anchor="end" fill="#333" stroke="#333" stroke-width="0.3">-12</text><text x="927.5" y="112.9" font-size="9.5" fill="#333" stroke="#333" stroke-width="0.3">108T</text><text x="927.5" y="162.7" font-size="9.5" fill="#333" stroke="#333" stroke-width="0.3">96T</text><text x="927.5" y="212" font-size="9.5" fill="#333" stroke="#333" stroke-width="0.3">84T</text><text x="927.5" y="262.4" font-size="9.5" fill="#333" stroke="#333" stroke-width="0.3">72T</text><text x="927.5" y="312.2" font-size="9.5" fill="#333" stroke="#333" stroke-width="0.3">60T</text><text x="927.5" y="362.4" font-size="9.5" fill="#333" stroke="#333" stroke-width="0.3">48T</text><text transform="translate(903,213.8) rotate(90)" font-size="9.6" text-anchor="middle" fill="#666" stroke="#666" stroke-width="0.3">M2 Growth Global of YoY (%)</text><text transform="translate(955,214.2) rotate(90)" font-size="9.6" text-anchor="middle" fill="#666" stroke="#666" stroke-width="0.3">M2 Growth Global (USD)</text><text x="820" y="362" font-size="8.2" fill="#999">Power by BGeometrics.com</text><text x="93.1" y="126.1" font-size="19" font-weight="bold" fill="#3aa8e0">M2 Global Supply (USD): 106.7T</text><text x="632.7" y="201.5" font-size="19" font-weight="bold" fill="#dc5d9d">M2 Growth YoY (%): 6.92</text><line x1="393" y1="210.3" x2="546.9" y2="210.3" stroke="#db5a9c" stroke-width="2.3"/><path d="M387,210.3 L395.5,205.9 L395.5,214.70000000000002 Z" fill="#db5a9c"/><path d="M552.9,210.3 L544.4,205.9 L544.4,214.70000000000002 Z" fill="#db5a9c"/><line x1="597.3" y1="210.4" x2="868.3" y2="210.4" stroke="#db5a9c" stroke-width="2.3"/><path d="M591.3,210.4 L599.8,206.0 L599.8,214.8 Z" fill="#db5a9c"/><path d="M874.3,210.4 L865.8,206.0 L865.8,214.8 Z" fill="#db5a9c"/><line x1="370.2" y1="190.5" x2="393.2" y2="147.5" stroke="#218a3c" stroke-width="1.8"/><path d="M397.4,139.6 L397.1,150.8 L388.3,146.1 Z" fill="#218a3c"/><line x1="569" y1="180" x2="614.8" y2="93.9" stroke="#218a3c" stroke-width="1.8"/><path d="M619,86 L618.7,97.2 L609.9,92.5 Z" fill="#218a3c"/><circle cx="368.7" cy="209.4" r="10.9" fill="#ec5fbf" fill-opacity="0.78"/><circle cx="569.7" cy="210.2" r="11.1" fill="#ec5fbf" fill-opacity="0.78"/><circle cx="891.3" cy="210.8" r="11.3" fill="#ec5fbf" fill-opacity="0.78"/><circle cx="894" cy="117" r="11.5" fill="#7cc8f0" fill-opacity="0.5"/><text x="897" y="212.7" font-size="9.5" text-anchor="end" fill="#8e2866" stroke="#8e2866" stroke-width="0.3">6</text><text x="897" y="112.9" font-size="9.5" text-anchor="end" fill="#4a5a66" fill-opacity="0.85">18</text></svg></body></html>
